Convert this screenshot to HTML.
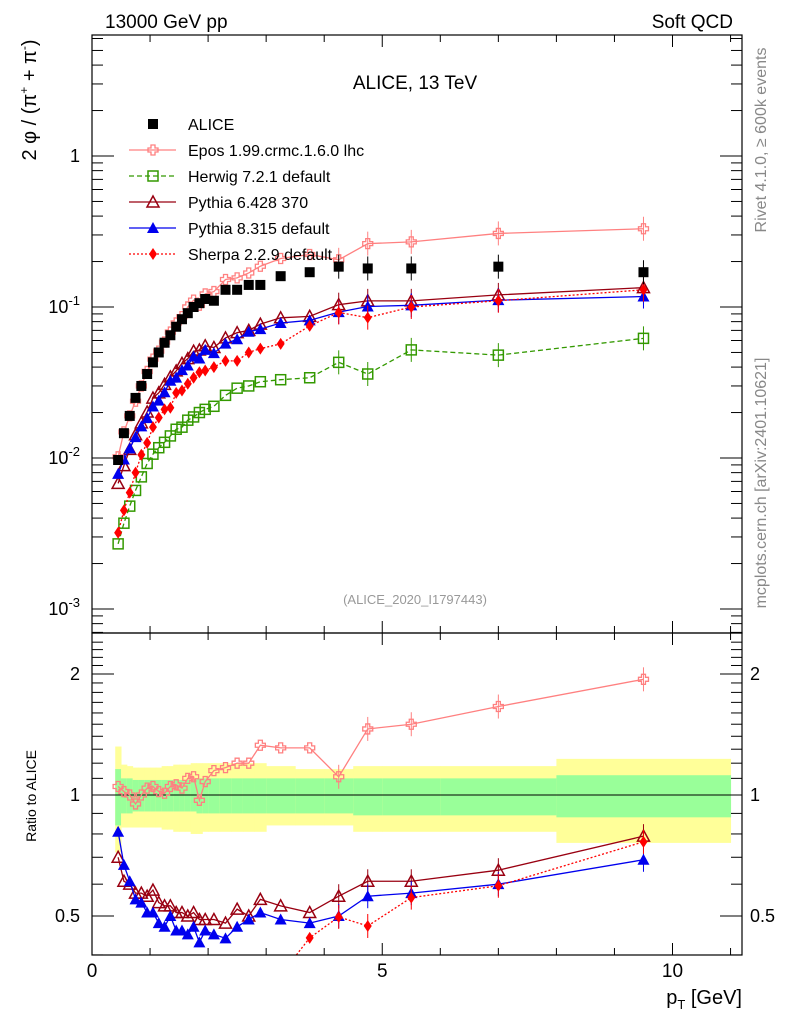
<!DOCTYPE html>
<html><head><meta charset="utf-8"><style>
html,body{margin:0;padding:0;background:#fff}
svg{display:block;font-family:"Liberation Sans",sans-serif}
</style></head><body>
<svg id="c" width="786" height="1024" xmlns="http://www.w3.org/2000/svg">
<g id="bands"></g>
<g id="grid"></g>
<g id="series"></g>
<g id="axes"></g>
<text x="105" y="28" font-size="19">13000 GeV pp</text>
<text x="733" y="28" font-size="19" text-anchor="end">Soft QCD</text>
<text x="415" y="89" font-size="19" text-anchor="middle">ALICE, 13 TeV</text>
<text x="415" y="604" font-size="13" fill="#999" text-anchor="middle">(ALICE_2020_I1797443)</text>
<text transform="translate(766,140) rotate(-90)" font-size="16" fill="#888" text-anchor="middle">Rivet 4.1.0, ≥ 600k events</text>
<text transform="translate(766,483) rotate(-90)" font-size="16" fill="#888" text-anchor="middle">mcplots.cern.ch [arXiv:2401.10621]</text>
<text transform="translate(36,100) rotate(-90)" font-size="20" text-anchor="middle">2 φ / (π<tspan dy="-8" font-size="12">+</tspan><tspan dy="8"> + π</tspan><tspan dy="-8" font-size="12">-</tspan><tspan dy="8">)</tspan></text>
<text transform="translate(36,796) rotate(-90)" font-size="14" text-anchor="middle">Ratio to ALICE</text>
<text x="742" y="1004" font-size="20" text-anchor="end">p<tspan dy="5" font-size="13">T</tspan><tspan dy="-5"> [GeV]</tspan></text>
<g id="legend"></g>
</svg>
<script>
const pT=[0.45,0.55,0.65,0.75,0.85,0.95,1.05,1.15,1.25,1.35,1.45,1.55,1.65,1.75,1.85,1.95,2.1,2.3,2.5,2.7,2.9,3.25,3.75,4.25,4.75,5.5,7,9.5];
const alice=[0.0097,0.0146,0.019,0.025,0.030,0.036,0.043,0.050,0.058,0.065,0.074,0.083,0.091,0.100,0.106,0.113,0.11,0.13,0.13,0.14,0.14,0.16,0.17,0.185,0.18,0.18,0.185,0.17];
const eposRatio=[1.05,1.02,1.0,0.95,1.0,1.04,1.05,1.02,1.01,1.05,1.06,1.04,1.10,1.11,0.97,1.08,1.15,1.17,1.2,1.2,1.33,1.31,1.31,1.11,1.46,1.5,1.66,1.94];
const py6Ratio=[0.70,0.61,0.60,0.57,0.57,0.56,0.58,0.54,0.53,0.53,0.51,0.51,0.50,0.51,0.49,0.49,0.49,0.48,0.52,0.50,0.55,0.53,0.51,0.56,0.61,0.61,0.65,0.79];
const py8Ratio=[0.81,0.67,0.61,0.55,0.54,0.51,0.51,0.48,0.47,0.50,0.46,0.46,0.45,0.47,0.43,0.46,0.45,0.44,0.47,0.49,0.51,0.49,0.48,0.50,0.56,0.57,0.60,0.69];
const sherpa=[0.0032,0.0045,0.0059,0.0080,0.0105,0.0126,0.016,0.0185,0.021,0.0215,0.027,0.028,0.031,0.034,0.037,0.038,0.040,0.044,0.044,0.050,0.053,0.057,0.075,0.092,0.085,0.10,0.11,0.13];
const herwig=[0.0027,0.0037,0.0048,0.0061,0.0075,0.0092,0.0106,0.0117,0.0127,0.014,0.0155,0.016,0.0178,0.0187,0.020,0.021,0.022,0.026,0.029,0.030,0.032,0.033,0.034,0.043,0.036,0.052,0.048,0.062];
const binEdges=[0.4,0.5,0.6,0.7,0.8,0.9,1.0,1.1,1.2,1.3,1.4,1.5,1.6,1.7,1.8,1.9,2.0,2.2,2.4,2.6,2.8,3.0,3.5,4.0,4.5,5.0,6.0,8.0,11.0];
const totUp=[1.32,1.19,1.18,1.17,1.17,1.17,1.17,1.17,1.18,1.18,1.19,1.19,1.19,1.2,1.2,1.2,1.2,1.2,1.2,1.2,1.2,1.18,1.16,1.16,1.18,1.18,1.18,1.23];
const totDn=[0.72,0.83,0.83,0.83,0.83,0.83,0.83,0.83,0.82,0.82,0.81,0.81,0.81,0.80,0.80,0.81,0.81,0.81,0.81,0.81,0.81,0.84,0.84,0.84,0.81,0.81,0.81,0.76];
const statUp=[1.16,1.10,1.10,1.09,1.09,1.09,1.09,1.09,1.09,1.09,1.09,1.09,1.09,1.09,1.1,1.1,1.1,1.1,1.1,1.1,1.1,1.1,1.1,1.1,1.1,1.1,1.1,1.12];
const statDn=[0.84,0.90,0.90,0.91,0.91,0.91,0.91,0.91,0.91,0.91,0.91,0.91,0.91,0.91,0.9,0.9,0.9,0.9,0.9,0.9,0.9,0.9,0.9,0.9,0.89,0.89,0.89,0.88];
const xTicks=[0,5,10];
const yTicksMain=[0.001,0.01,0.1,1];
const yTickLabelsMain=["10^-3","10^-2","10^-1","1"];
const rTicks=[0.5,1,2];

const NS="http://www.w3.org/2000/svg";
const L=92,R=742,T=35,MB=633,RB=955;
const xs=v=>L+v*58.05;
const ys=v=>156-151*Math.log10(v);
const yr=v=>795-121*Math.log2(v);
function el(tag,attrs,parent){const e=document.createElementNS(NS,tag);for(const k in attrs)e.setAttribute(k,attrs[k]);parent.appendChild(e);return e;}
const svg=document.getElementById('c');
const bands=document.getElementById('bands'),series=document.getElementById('series'),axes=document.getElementById('axes'),legend=document.getElementById('legend');

for(let i=0;i<binEdges.length-1;i++){
  const x0=xs(binEdges[i]),x1=xs(binEdges[i+1]);
  const a=el('rect',{x:x0,y:yr(totUp[i]),width:x1-x0+0.5,height:yr(totDn[i])-yr(totUp[i]),fill:'#ffff99'},bands);
  
  
  const b=el('rect',{x:x0,y:yr(statUp[i]),width:x1-x0+0.5,height:yr(statDn[i])-yr(statUp[i]),fill:'#99ff99'},bands);
  
  
}
el('line',{x1:L,x2:R,y1:yr(1),y2:yr(1),stroke:'#000','stroke-width':1},bands);

const defs=el('defs',{},svg);
const cp1=el('clipPath',{id:'cm'},defs);el('rect',{x:L,y:T,width:R-L,height:MB-T},cp1);
const cp2=el('clipPath',{id:'cr'},defs);el('rect',{x:L,y:MB,width:R-L,height:RB-MB},cp2);
const gm=el('g',{'clip-path':'url(#cm)'},series);
const gr=el('g',{'clip-path':'url(#cr)'},series);

function marker(g,type,x,y,col){
  let m;
  if(type==='sq') m=el('rect',{x:x-5,y:y-5,width:10,height:10,fill:'#000'},g);
  else if(type==='osq') m=el('rect',{x:x-5,y:y-5,width:10,height:10,fill:'#fff','fill-opacity':0,stroke:col,'stroke-width':1.5},g);
  else if(type==='cross') m=el('path',{d:`M${x-2},${y-5}h4v3h3v4h-3v3h-4v-3h-3v-4h3z`,fill:'none',stroke:col,'stroke-width':1.3},g);
  else if(type==='otri') m=el('path',{d:`M${x},${y-6}L${x+6},${y+5}L${x-6},${y+5}Z`,fill:'none',stroke:col,'stroke-width':1.5},g);
  else if(type==='tri') m=el('path',{d:`M${x},${y-6}L${x+6},${y+5}L${x-6},${y+5}Z`,fill:col},g);
  else if(type==='dia') m=el('path',{d:`M${x},${y-6}L${x+4},${y}L${x},${y+6}L${x-4},${y}Z`,fill:col},g);
  return m;
}
function drawSeries(g,vals,yf,col,type,dash,name){
  const pts=vals.map((v,i)=>[xs(pT[i]),yf(v)]);
  if(col!=='#000'){
    const p=el('polyline',{points:pts.map(p=>p.join(',')).join(' '),fill:'none',stroke:col,'stroke-width':1.3},g);
    if(dash)p.setAttribute('stroke-dasharray',dash);
    
    
  }
  pts.forEach((p,i)=>{
    if(pT[i]>=4){el('line',{x1:p[0],x2:p[0],y1:p[1]-12,y2:p[1]+12,stroke:col,'stroke-width':1},g);}
    const m=marker(g,type,p[0],p[1],col);
    
    
  });
}
const epos=alice.map((a,i)=>a*eposRatio[i]);
const py6=alice.map((a,i)=>a*py6Ratio[i]);
const py8=alice.map((a,i)=>a*py8Ratio[i]);
drawSeries(gm,herwig,ys,'#339900','osq','5,3','herwig');
drawSeries(gm,py6,ys,'#990011','otri',null,'pythia6');
drawSeries(gm,py8,ys,'#0000ee','tri',null,'pythia8');
drawSeries(gm,sherpa,ys,'#ff0000','dia','2,2','sherpa');
drawSeries(gm,epos,ys,'#ff8080','cross',null,'epos');
drawSeries(gm,alice,ys,'#000','sq',null,'alice');
drawSeries(gr,py6Ratio,yr,'#990011','otri',null,'pythia6-ratio');
drawSeries(gr,py8Ratio,yr,'#0000ee','tri',null,'pythia8-ratio');
drawSeries(gr,sherpa.map((s,i)=>s/alice[i]),yr,'#ff0000','dia','2,2','sherpa-ratio');
drawSeries(gr,eposRatio,yr,'#ff8080','cross',null,'epos-ratio');

el('rect',{x:L,y:T,width:R-L,height:MB-T,fill:'none',stroke:'#000','stroke-width':1.2},axes);
el('rect',{x:L,y:MB,width:R-L,height:RB-MB,fill:'none',stroke:'#000','stroke-width':1.2},axes);
for(let v=0;v<=11;v+=0.5){
  const x=xs(v);const len=(v%5===0)?12:(v%1===0?7:0);if(!len)continue;
  [[T,1],[MB,-1],[MB,1],[RB,-1]].forEach(([y,d])=>el('line',{x1:x,x2:x,y1:y,y2:y+d*len,stroke:'#000'},axes));
}
xTicks.forEach(v=>{const t=el('text',{x:xs(v),y:RB+22,'font-size':19,'text-anchor':'middle'},axes);t.textContent=v;
  
  });
for(let d=-4;d<=0;d++)for(let k=1;k<=9;k++){
  const v=k*Math.pow(10,d);const y=ys(v);if(y<T||y>MB)continue;const len=k===1?22:11;
  el('line',{x1:L,x2:L+len,y1:y,y2:y,stroke:'#000'},axes);el('line',{x1:R,x2:R-len,y1:y,y2:y,stroke:'#000'},axes);
}
yTicksMain.forEach((v,i)=>{
  const y=ys(v);const t=el('text',{x:L-12,y:y+6,'font-size':18,'text-anchor':'end'},axes);
  
  
  const lab=yTickLabelsMain[i];
  if(lab.includes('^')){const [b,e]=lab.split('^');t.textContent=b;const s=el('tspan',{dy:-8,'font-size':13},t);s.textContent=e;}
  else t.textContent=lab;
});
for(let v=0.4;v<=2.5;v+=0.1){const y=yr(v);if(y<MB||y>RB)continue;const major=[0.5,1,2].some(m=>Math.abs(m-v)<1e-6);const len=major?22:11;
  el('line',{x1:L,x2:L+len,y1:y,y2:y,stroke:'#000'},axes);el('line',{x1:R,x2:R-len,y1:y,y2:y,stroke:'#000'},axes);}
rTicks.forEach(v=>{const y=yr(v);
  const t=el('text',{x:L-12,y:y+6,'font-size':18,'text-anchor':'end'},axes);t.textContent=v;
  
  
  const t2=el('text',{x:R+8,y:y+6,'font-size':18},axes);t2.textContent=v;
  
  });

const leg=[['ALICE','#000','sq',null],['Epos 1.99.crmc.1.6.0 lhc','#ff8080','cross',null],['Herwig 7.2.1 default','#339900','osq','5,3'],['Pythia 6.428 370','#990011','otri',null],['Pythia 8.315 default','#0000ee','tri',null],['Sherpa 2.2.9 default','#ff0000','dia','2,2']];
leg.forEach((l,i)=>{
  const y=124+i*26;const g=el('g',{},legend);
  
  
  if(l[1]!=='#000'){const ln=el('line',{x1:129,x2:176,y1:y,y2:y,stroke:l[1],'stroke-width':1.3},g);if(l[3])ln.setAttribute('stroke-dasharray',l[3]);}
  marker(g,l[2],153,y,l[1]);
  const t=el('text',{x:188,y:y+6,'font-size':16},g);t.textContent=l[0];
});
</script>
</body></html>
